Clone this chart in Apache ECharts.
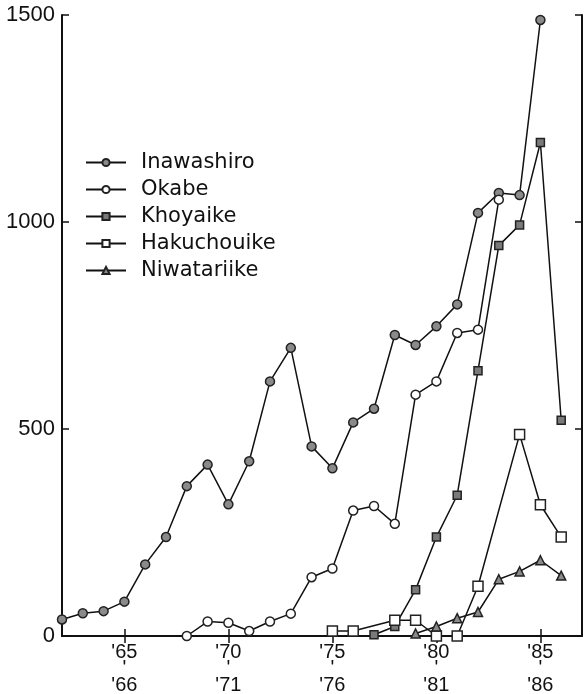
<!DOCTYPE html>
<html>
<head>
<meta charset="utf-8">
<script src="https://cdn.jsdelivr.net/npm/echarts@6/dist/echarts.min.js"></script>
<style>
  html, body { margin: 0; padding: 0; background: #fff; }
  #main { width: 585px; height: 694px; }
</style>
</head>
<body>
<div id="main"></div>
<script>
// winter seasons, '62/'63 ... '87/'88 (first year of season)
var years = [1962, 1963, 1964, 1965, 1966, 1967, 1968, 1969, 1970, 1971, 1972, 1973, 1974,
  1975, 1976, 1977, 1978, 1979, 1980, 1981, 1982, 1983, 1984, 1985, 1986, 1987];

var inawashiro = [40, 55, 60, 83, 173, 239, 362, 414, 318, 422, 615, 696, 458,
  405, 516, 549, 727, 703, 748, 801, 1022, 1070, 1065, 1488, null];
var okabe = [null, null, null, null, null, null, 0, 35, 32, 12, 35, 54, 142,
  163, 303, 314, 271, 583, 615, 732, 740, 1054, null, null, null];
var khoyaike = [null, null, null, null, null, null, null, null, null, null, null, null, null,
  null, null, 3, 23, 112, 239, 340, 641, 943, 993, 1192, 521];
var hakuchouike = [null, null, null, null, null, null, null, null, null, null, null, null, null,
  12, 12, null, 38, 38, 0, 0, 120, null, 487, 317, 239];
var niwatariike = [null, null, null, null, null, null, null, null, null, null, null, null, null,
  null, null, null, null, 6, 23, 43, 58, 137, 156, 183, 146];

var yTicks = [0, 500, 1000, 1500];

var myChart = echarts.init(document.getElementById('main'));

var ink = '#111';
var clear = 'rgba(0,0,0,0)';
function every5(idx, val) { return Number(val) % 5 === 0; }
function yy(v) { return String(v % 100).padStart(2, '0'); }

function mkSeries(name, data, symbol, size, fill) {
  return {
    name: name,
    type: 'line',
    data: data,
    connectNulls: true,
    symbol: symbol,
    symbolSize: size,
    showAllSymbol: true,
    lineStyle: { color: ink, width: 1.5 },
    itemStyle: { color: fill, borderColor: '#222', borderWidth: 1.5 },
    emphasis: { disabled: true }
  };
}

myChart.setOption({
  animation: false,
  textStyle: { fontFamily: 'Liberation Sans' },
  grid: { left: 62, right: 3, top: 15, bottom: 58, outerBoundsMode: 'none', containLabel: false },
  legend: {
    orient: 'vertical',
    left: 80,
    top: 147,
    itemWidth: 40,
    itemHeight: 9,
    itemGap: 6,
    textStyle: { fontFamily: 'DejaVu Sans', fontSize: 21, color: ink, padding: [0, 0, 0, 10] },
    data: ['Inawashiro', 'Okabe', 'Khoyaike', 'Hakuchouike', 'Niwatariike']
  },
  xAxis: [{
    type: 'category',
    data: years,
    boundaryGap: false,
    position: 'bottom',
    axisLine: { lineStyle: { color: ink, width: 2 } },
    axisTick: { inside: true, length: 7, interval: every5, lineStyle: { color: ink, width: 1.5 } },
    axisLabel: {
      interval: every5,
      margin: 8,
      fontSize: 20,
      lineHeight: 16.5,
      color: ink,
      formatter: function (v) {
        var y = Number(v);
        return "'" + yy(y) + "\n'\n'" + yy(y + 1);
      }
    }
  }, {
    type: 'category',
    data: years,
    boundaryGap: false,
    position: 'top',
    axisLine: { lineStyle: { color: ink, width: 2 } },
    axisTick: { inside: true, length: 7, interval: every5, lineStyle: { color: ink, width: 1.5 } },
    axisLabel: { show: true, interval: every5, color: clear }
  }],
  yAxis: [{
    type: 'value',
    min: yTicks[0],
    max: yTicks[yTicks.length - 1],
    interval: 500,
    position: 'left',
    axisLine: { show: true, lineStyle: { color: ink, width: 2 } },
    axisTick: { show: true, inside: true, length: 7, lineStyle: { color: ink, width: 1.5 } },
    axisLabel: { fontSize: 22, color: ink, margin: 7, formatter: function (v) { return String(v); } },
    splitLine: { show: false }
  }, {
    type: 'value',
    min: yTicks[0],
    max: yTicks[yTicks.length - 1],
    interval: 500,
    position: 'right',
    axisLine: { show: true, lineStyle: { color: ink, width: 2 } },
    axisTick: { show: true, inside: true, length: 7, lineStyle: { color: ink, width: 1.5 } },
    axisLabel: { show: false },
    splitLine: { show: false }
  }],
  series: [
    mkSeries('Inawashiro', inawashiro, 'circle', 9, '#8a8a8a'),
    mkSeries('Okabe', okabe, 'circle', 9, '#ffffff'),
    mkSeries('Khoyaike', khoyaike, 'rect', 8, '#7a7a7a'),
    mkSeries('Hakuchouike', hakuchouike, 'rect', 10, '#ffffff'),
    mkSeries('Niwatariike', niwatariike, 'triangle', 9, '#8a8a8a')
  ]
});
window.onresize = myChart.resize;
</script>
</body>
</html>
